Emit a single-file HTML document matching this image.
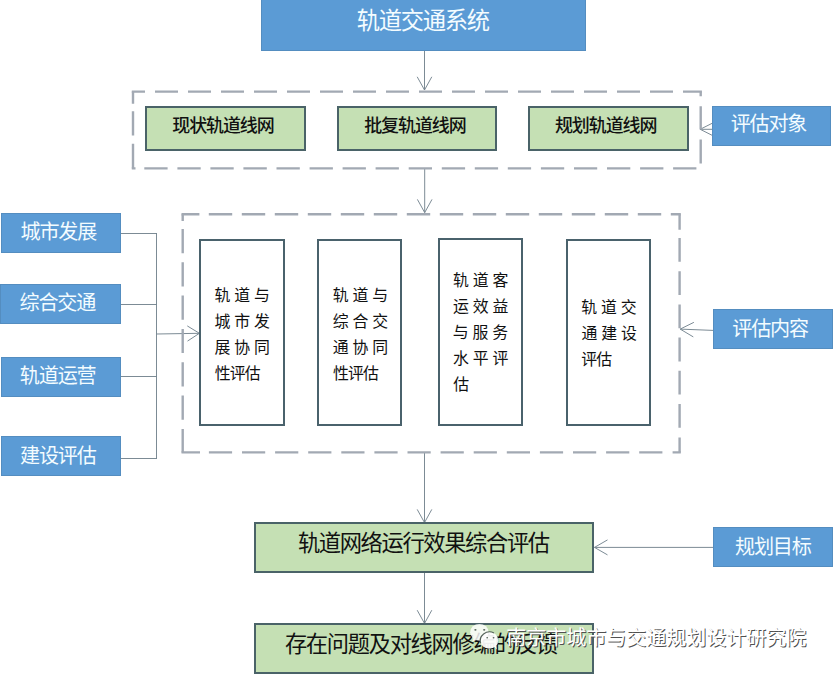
<!DOCTYPE html>
<html lang="zh-CN">
<head>
<meta charset="utf-8">
<title>轨道交通系统评估流程</title>
<style>
html,body{margin:0;padding:0;background:#fff}
body{width:833px;height:674px;overflow:hidden;font-family:"Liberation Sans",sans-serif}
#stage{position:relative;width:833px;height:674px;overflow:hidden;background:#fff}
svg{position:absolute;left:0;top:0;width:833px;height:674px;overflow:hidden}
svg text{font-family:"Liberation Sans","Noto Sans CJK SC",sans-serif}
.b{position:absolute;box-sizing:border-box;color:transparent;font-size:15px;line-height:26px;text-align:center;overflow:hidden;white-space:nowrap;user-select:none}
.j{letter-spacing:4.75px}
.blue{background:#5b9bd5;box-shadow:inset 0 0 0 1px rgba(72,112,150,.32)}
.green{background:#c5e0b4;border:2px solid #4a6368}
.white{background:#fff;border:2px solid #4a626c}
</style>
</head>
<body>
<div id="stage">
<svg viewBox="0 0 833 674" fill="none"><path d="M424.50 50.00L424.50 90.00M417.20 76.80L424.50 90.00L431.80 76.80" stroke="#75858f" stroke-width="0.95" fill="none" stroke-linejoin="miter"/><path d="M424.70 169.00L424.70 212.60M417.40 199.40L424.70 212.60L432.00 199.40" stroke="#75858f" stroke-width="0.95" fill="none" stroke-linejoin="miter"/><path d="M424.50 453.00L424.50 522.60M417.20 509.40L424.50 522.60L431.80 509.40" stroke="#75858f" stroke-width="0.95" fill="none" stroke-linejoin="miter"/><path d="M424.50 573.00L424.50 623.40M417.20 610.20L424.50 623.40L431.80 610.20" stroke="#75858f" stroke-width="0.95" fill="none" stroke-linejoin="miter"/><path d="M716.00 129.30L700.20 129.30M712.70 123.00L700.20 129.30L712.70 135.60" stroke="#75858f" stroke-width="0.95" fill="none" stroke-linejoin="miter"/><path d="M713.00 330.40L680.20 329.10M693.88 322.34L680.20 329.10L693.30 336.92" stroke="#75858f" stroke-width="0.95" fill="none" stroke-linejoin="miter"/><path d="M713.00 547.40L594.50 547.40M607.50 539.90L594.50 547.40L607.50 554.90" stroke="#75858f" stroke-width="0.95" fill="none" stroke-linejoin="miter"/><path d="M121 233.5L157 233.5" stroke="#75858f" stroke-width="0.95"/><path d="M120.5 304.5L157 304.5" stroke="#75858f" stroke-width="0.95"/><path d="M121 376.5L157 376.5" stroke="#75858f" stroke-width="0.95"/><path d="M121 458.5L157 458.5" stroke="#75858f" stroke-width="0.95"/><path d="M156.5 233L156.5 459" stroke="#75858f" stroke-width="0.95"/><path d="M156.50 334.00L199.40 333.30M187.53 341.09L199.40 333.30L187.28 325.90" stroke="#75858f" stroke-width="0.95" fill="none" stroke-linejoin="miter"/><path d="M131.8 91.6L145.0 91.6M155.0 91.6L178.0 91.6M188.0 91.6L211.0 91.6M221.0 91.6L244.0 91.6M254.0 91.6L277.0 91.6M287.0 91.6L310.0 91.6M320.0 91.6L343.0 91.6M353.0 91.6L376.0 91.6M386.0 91.6L409.0 91.6M419.0 91.6L442.0 91.6M452.0 91.6L475.0 91.6M485.0 91.6L508.0 91.6M518.0 91.6L541.0 91.6M551.0 91.6L574.0 91.6M584.0 91.6L607.0 91.6M617.0 91.6L640.0 91.6M650.0 91.6L673.0 91.6M683.0 91.6L701.9 91.6" stroke="#a2a9b3" stroke-width="2.4" fill="none"/><path d="M700.7 91.6L700.7 96.2M700.7 106.2L700.7 129.6M700.7 139.6L700.7 163.4" stroke="#a2a9b3" stroke-width="2.4" fill="none"/><path d="M673.1 168.4L696.4 168.4M640.1 168.4L663.4 168.4M607.0 168.4L630.3 168.4M574.0 168.4L597.2 168.4M540.9 168.4L564.2 168.4M507.8 168.4L531.1 168.4M474.8 168.4L498.1 168.4M441.8 168.4L465.1 168.4M408.7 168.4L432.0 168.4M375.6 168.4L398.9 168.4M342.6 168.4L365.9 168.4M309.6 168.4L332.9 168.4M276.5 168.4L299.8 168.4M243.4 168.4L266.8 168.4M210.4 168.4L233.7 168.4M177.4 168.4L200.7 168.4M144.3 168.4L167.6 168.4M131.8 168.4L135.5 168.4" stroke="#a2a9b3" stroke-width="2.4" fill="none"/><path d="M133 91.6L133 103.8M133 111.2L133 135.5M133 143.8L133 168.4" stroke="#a2a9b3" stroke-width="2.4" fill="none"/><path d="M181.5 214.3L199.4 214.3M208.8 214.3L232.2 214.3M241.8 214.3L265.2 214.3M274.8 214.3L298.2 214.3M307.8 214.3L331.2 214.3M340.8 214.3L364.2 214.3M373.8 214.3L397.2 214.3M406.8 214.3L430.2 214.3M439.8 214.3L463.2 214.3M472.8 214.3L496.2 214.3M505.8 214.3L529.2 214.3M538.8 214.3L562.2 214.3M571.8 214.3L595.2 214.3M604.8 214.3L628.2 214.3M637.8 214.3L661.2 214.3M670.8 214.3L680.8 214.3" stroke="#a2a9b3" stroke-width="2.4" fill="none"/><path d="M679.6 214.3L679.6 229.7M679.6 238.0L679.6 261.8M679.6 271.2L679.6 295.0M679.6 304.4L679.6 328.2M679.6 337.6L679.6 361.4M679.6 370.8L679.6 394.6M679.6 404.0L679.6 427.8M679.6 437.6L679.6 452.4" stroke="#a2a9b3" stroke-width="2.4" fill="none"/><path d="M672.6 452.4L680.8 452.4M639.2 452.4L662.4 452.4M606.1 452.4L629.3 452.4M573.0 452.4L596.2 452.4M539.9 452.4L563.1 452.4M506.8 452.4L530.0 452.4M473.7 452.4L496.9 452.4M440.6 452.4L463.8 452.4M407.5 452.4L430.7 452.4M374.4 452.4L397.6 452.4M341.3 452.4L364.5 452.4M308.2 452.4L331.4 452.4M275.1 452.4L298.3 452.4M242.0 452.4L265.2 452.4M208.9 452.4L232.1 452.4M181.5 452.4L200.0 452.4" stroke="#a2a9b3" stroke-width="2.4" fill="none"/><path d="M182.7 214.3L182.7 221.0M182.7 229.0L182.7 253.2M182.7 262.3L182.7 286.5M182.7 295.6L182.7 319.8M182.7 328.9L182.7 353.1M182.7 362.2L182.7 386.4M182.7 395.5L182.7 419.7M182.7 428.9L182.7 452.4" stroke="#a2a9b3" stroke-width="2.4" fill="none"/></svg>
<div class="b blue" style="left:261px;top:-2px;width:325px;height:53px;font-size:22px;line-height:45px">轨道交通系统</div>
<div class="b green" style="left:145px;top:106px;width:161px;height:45px;font-size:17px;line-height:38px">现状轨道线网</div>
<div class="b green" style="left:337px;top:106px;width:160px;height:45px;font-size:17px;line-height:38px">批复轨道线网</div>
<div class="b green" style="left:528px;top:106px;width:161px;height:45px;font-size:17px;line-height:38px">规划轨道线网</div>
<div class="b blue" style="left:712px;top:106px;width:119px;height:40px;font-size:19px;line-height:36px">评估对象</div>
<div class="b blue" style="left:713px;top:309px;width:120px;height:39.5px;font-size:19px;line-height:38px">评估内容</div>
<div class="b blue" style="left:713px;top:527px;width:120px;height:39.7px;font-size:19px;line-height:38px">规划目标</div>
<div class="b blue" style="left:1px;top:213px;width:120px;height:39.5px;font-size:19px;line-height:37px">城市发展</div>
<div class="b blue" style="left:0px;top:284px;width:120.5px;height:39.5px;font-size:19px;line-height:37px">综合交通</div>
<div class="b blue" style="left:1.25px;top:357px;width:119.75px;height:39.75px;font-size:19px;line-height:37px">轨道运营</div>
<div class="b blue" style="left:1.25px;top:436.25px;width:119.75px;height:39.5px;font-size:19px;line-height:37px">建设评估</div>
<div class="b white" style="left:199px;top:239px;width:86px;height:186.5px;text-align:left;padding:40.8px 0 0 14.1px"><span class="j">轨道与</span><br><span class="j">城市发</span><br><span class="j">展协同</span><br>性评估</div>
<div class="b white" style="left:317px;top:239px;width:85px;height:186.5px;text-align:left;padding:40.8px 0 0 14.4px"><span class="j">轨道与</span><br><span class="j">综合交</span><br><span class="j">通协同</span><br>性评估</div>
<div class="b white" style="left:438px;top:238px;width:85px;height:187.5px;text-align:left;padding:27.4px 0 0 13.6px"><span class="j">轨道客</span><br><span class="j">运效益</span><br><span class="j">与服务</span><br><span class="j">水平评</span><br>估</div>
<div class="b white" style="left:566px;top:239px;width:85px;height:186.5px;text-align:left;padding:53.3px 0 0 14px"><span class="j">轨道交</span><br><span class="j">通建设</span><br>评估</div>
<div class="b green" style="left:254px;top:522px;width:340px;height:51px;font-size:21px;line-height:41px">轨道网络运行效果综合评估</div>
<div class="b green" style="left:254px;top:623px;width:340px;height:51px;font-size:21px;line-height:41px">存在问题及对线网修编的反馈</div>
<div class="b" style="left:470px;top:622px;width:340px;height:30px;font-size:20px;line-height:30px;text-align:right">南京市城市与交通规划设计研究院</div>
<svg viewBox="0 0 833 674">
<text fill="#f3fcff" font-size="23.3" y="29.42" x="356.66 378.66 400.66 422.66 444.66 466.66">轨道交通系统</text>
<text fill="#111" font-size="18" font-weight="500" y="132.46" x="172.25 189.15 206.05 222.95 239.85 256.75">现状轨道线网</text>
<text fill="#111" font-size="18" font-weight="500" y="132.46" x="364.19 381.09 397.99 414.89 431.79 448.69">批复轨道线网</text>
<text fill="#111" font-size="18" font-weight="500" y="132.46" x="554.93 571.83 588.73 605.63 622.53 639.43">规划轨道线网</text>
<text fill="#f3fcff" font-size="20.1" y="131.29" x="730.63 749.53 768.43 787.33">评估对象</text>
<text fill="#f3fcff" font-size="20.1" y="335.70" x="732.25 751.15 770.05 788.95">评估内容</text>
<text fill="#f3fcff" font-size="20.1" y="553.67" x="735.06 753.96 772.86 791.76">规划目标</text>
<text fill="#f3fcff" font-size="20.1" y="238.70" x="20.55 39.45 58.35 77.25">城市发展</text>
<text fill="#f3fcff" font-size="20.1" y="310.21" x="19.49 38.39 57.29 76.19">综合交通</text>
<text fill="#f3fcff" font-size="20.1" y="382.65" x="19.86 38.76 57.66 76.56">轨道运营</text>
<text fill="#f3fcff" font-size="20.1" y="463.02" x="20.00 38.90 57.80 76.70">建设评估</text>
<text fill="#111" font-size="15.9" y="300.84" x="214.46 234.21 253.96">轨道与</text>
<text fill="#111" font-size="15.9" y="326.78" x="214.45 234.20 253.95">城市发</text>
<text fill="#111" font-size="15.9" y="352.63" x="214.61 234.36 254.11">展协同</text>
<text fill="#111" font-size="15.9" y="378.54" x="214.65 229.65 244.65">性评估</text>
<text fill="#111" font-size="15.9" y="300.84" x="332.76 352.51 372.26">轨道与</text>
<text fill="#111" font-size="15.9" y="326.80" x="332.80 352.55 372.30">综合交</text>
<text fill="#111" font-size="15.9" y="352.63" x="332.78 352.53 372.28">通协同</text>
<text fill="#111" font-size="15.9" y="378.54" x="332.95 347.95 362.95">性评估</text>
<text fill="#111" font-size="15.9" y="286.48" x="452.96 472.71 492.46">轨道客</text>
<text fill="#111" font-size="15.9" y="312.32" x="453.01 472.76 492.51">运效益</text>
<text fill="#111" font-size="15.9" y="338.24" x="452.69 472.44 492.19">与服务</text>
<text fill="#111" font-size="15.9" y="364.12" x="452.98 472.73 492.48">水平评</text>
<text fill="#111" font-size="15.9" y="390.04" x="453.31">估</text>
<text fill="#111" font-size="15.9" y="313.38" x="581.36 601.11 620.86">轨道交</text>
<text fill="#111" font-size="15.9" y="339.22" x="581.38 601.13 620.88">通建设</text>
<text fill="#111" font-size="15.9" y="365.14" x="581.32 596.32">评估</text>
<text fill="#111" font-size="22.3" y="550.96" x="297.92 318.82 339.72 360.62 381.52 402.42 423.32 444.22 465.12 486.02 506.92 527.82">轨道网络运行效果综合评估</text>
<text fill="#111" font-size="22.3" y="651.79" x="284.91 305.86 326.81 347.76 368.71 389.66 410.61 431.56 452.51 473.46 494.41 515.36 536.31">存在问题及对线网修编的反馈</text>
<g><ellipse cx="479.4" cy="632.3" rx="9.2" ry="8.4" fill="#fff" fill-opacity="0.82"/><path d="M473.5 638.2l-1.6 3.6 4.6-1.8z" fill="#fff" fill-opacity="0.82"/><ellipse cx="489.3" cy="640.4" rx="9" ry="8.3" fill="#fff" fill-opacity="0.93"/><path d="M494.2 646.8l2.6 2.6-0.6-4z" fill="#fff" fill-opacity="0.93"/><path d="M480.8 643.4A9.4 8.7 0 0 1 494 632.9" fill="none" stroke="#44524a" stroke-width="1.1" stroke-opacity="0.9"/><ellipse cx="475.4" cy="629.8" rx="1.1" ry="0.9" fill="#59665d"/><ellipse cx="484.2" cy="629.8" rx="1.1" ry="0.9" fill="#59665d"/><ellipse cx="487.2" cy="637.8" rx="0.9" ry="0.8" fill="#59665d"/><ellipse cx="493.6" cy="637.8" rx="0.9" ry="0.8" fill="#59665d"/></g>
<text fill="#505050" font-size="20" y="645.65" x="507.30 527.30 547.30 567.30 587.30 607.30 627.30 647.30 667.30 687.30 707.30 727.30 747.30 767.30 787.30">南京市城市与交通规划设计研究院</text>
<text fill="#fff" font-size="20" y="644.65" x="506.30 526.30 546.30 566.30 586.30 606.30 626.30 646.30 666.30 686.30 706.30 726.30 746.30 766.30 786.30">南京市城市与交通规划设计研究院</text>
</svg>
</div>
</body>
</html>
